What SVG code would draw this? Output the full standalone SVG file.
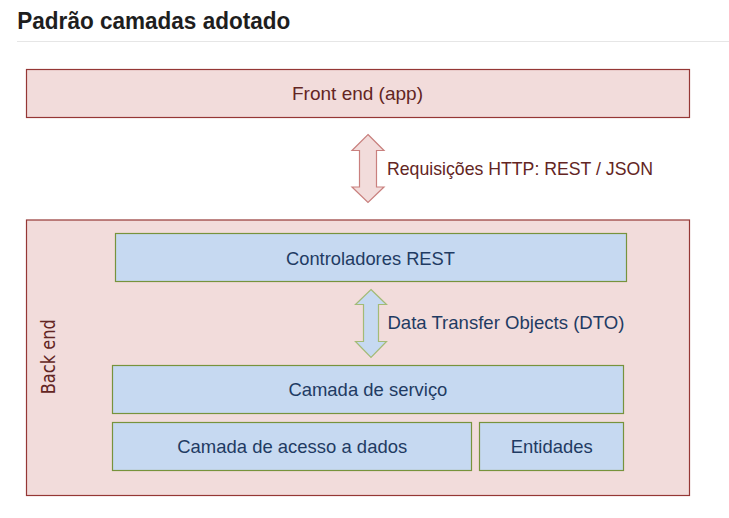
<svg xmlns="http://www.w3.org/2000/svg" width="729" height="518" viewBox="0 0 729 518">
<style>
.pink{fill:#f2dcdb;stroke:#953735;stroke-width:1.2}
.blue{fill:#c6d9f1;stroke:#77933c;stroke-width:1.2}
.t{font-family:"Liberation Sans",Arial,sans-serif;font-size:19px}
.tr{fill:#632523}
.tb{fill:#1f3b63}
.arr1{fill:#f2dcdb;stroke:#c9807e;stroke-width:1.2}
.arr2{fill:#c6d9f1;stroke:#a3bb76;stroke-width:1.2}
</style>
<rect width="729" height="518" fill="#ffffff"/>
<g id="title">
<text x="17.3" y="29.3" font-family="'Liberation Sans',Arial,sans-serif" font-size="23px" font-weight="bold" fill="#1e1e1e" textLength="273" lengthAdjust="spacingAndGlyphs">Padrão camadas adotado</text>
<line x1="17" y1="41.5" x2="729" y2="41.5" stroke="#e6e6e6" stroke-width="1"/>
</g>
<g id="frontend">
<rect class="pink" x="26.5" y="69.5" width="663" height="48"/>
<text class="t tr" x="292" y="100" textLength="131" lengthAdjust="spacingAndGlyphs">Front end (app)</text>
</g>
<g id="backend">
<rect class="pink" x="26.5" y="220" width="663" height="275.5"/>
<text x="55" y="394.3" transform="rotate(-90 55 394.3)" font-family="'DejaVu Sans',Verdana,sans-serif" font-size="19px" fill="#632523" textLength="75" lengthAdjust="spacingAndGlyphs">Back end</text>
</g>
<g id="controladores">
<rect class="blue" x="115.5" y="233.5" width="511" height="48"/>
<text class="t tb" x="286" y="264.5" textLength="169" lengthAdjust="spacingAndGlyphs">Controladores  REST</text>
</g>
<g id="servico">
<rect class="blue" x="112.5" y="365.5" width="511" height="48"/>
<text class="t tb" x="288.4" y="396" textLength="159" lengthAdjust="spacingAndGlyphs">Camada de serviço</text>
</g>
<g id="acesso">
<rect class="blue" x="112.5" y="422.5" width="359" height="48"/>
<text class="t tb" x="177.2" y="453" textLength="230" lengthAdjust="spacingAndGlyphs">Camada de acesso a dados</text>
</g>
<g id="entidades">
<rect class="blue" x="479.5" y="422.5" width="144" height="48"/>
<text class="t tb" x="510.7" y="453" textLength="82" lengthAdjust="spacingAndGlyphs">Entidades</text>
</g>
<g id="connectors">
<path class="arr1" d="M368,134.5 L384,150.5 L376.5,150.5 L376.5,187 L384,187 L368,202.5 L352,187 L359.5,187 L359.5,150.5 L352,150.5 Z"/>
<text class="t tr" x="387" y="175" textLength="266" lengthAdjust="spacingAndGlyphs">Requisições HTTP: REST / JSON</text>
<path class="arr2" d="M371,289.5 L386.5,304.5 L378.5,304.5 L378.5,341.5 L386.5,341.5 L371,357.5 L355.5,341.5 L363.5,341.5 L363.5,304.5 L355.5,304.5 Z"/>
<text class="t tb" x="387.4" y="328.5" textLength="237" lengthAdjust="spacingAndGlyphs">Data Transfer  Objects (DTO)</text>
</g>
</svg>
